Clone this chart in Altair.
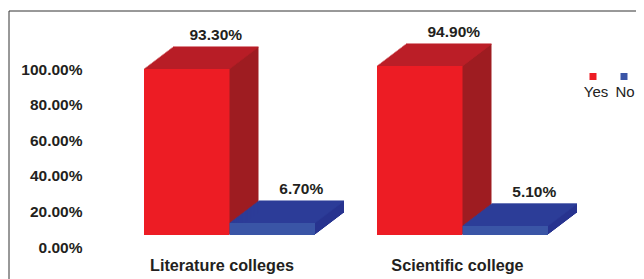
import altair as alt
import pandas as pd

categories = ["Literature colleges", "Scientific college"]
series = ["Yes", "No"]
yes_values = [93.3, 94.9]
no_values = [6.7, 5.1]
y_ticks = [0, 20, 40, 60, 80, 100]

rows = []
for i, c in enumerate(categories):
    rows.append({"college": c, "series": "Yes", "value": yes_values[i]})
    rows.append({"college": c, "series": "No", "value": no_values[i]})
df = pd.DataFrame(rows)

front_colors = {"Yes": "#ED1C24", "No": "#3A55A6"}
top_colors = {"Yes": "#C1202A", "No": "#2E3E9A"}
side_colors = {"Yes": "#9E1C21", "No": "#27338F"}

FONT = "Liberation Sans"
TXT = "#231f20"
DX, DY, N = 29.0, 22.0, 22
BAR_W = 85.5                      # width of one bar (half the group band)
SERIES_SHIFT = {"Yes": -BAR_W / 2, "No": BAR_W / 2}

x_enc = alt.X(
    "college:N", sort=categories,
    scale=alt.Scale(paddingInner=0.2661, paddingOuter=0.2232, round=False),
    axis=alt.Axis(title=None, domain=False, ticks=False, tickSize=0, labelPadding=35,
                  labelBaseline="alphabetic", labelAngle=0, labelFont=FONT, labelFontSize=16.2,
                  labelFontWeight="bold", labelColor=TXT,
                  labelOffset={"condition": {"test": "datum.value == 'Literature colleges'", "value": -7.5},
                               "value": -5}),
)
y_enc = alt.Y(
    "value:Q", scale=alt.Scale(domain=[0, 100], nice=False),
    axis=alt.Axis(title=None, values=y_ticks, domain=False, ticks=False, tickSize=0, grid=False,
                  labelPadding=10, labelOffset=12,
                  labelExpr="format(datum.value, '.2f') + '%'", labelFont=FONT,
                  labelFontSize=15.5, labelFontWeight="bold", labelColor=TXT),
)

base = alt.Chart(df).encode(x=x_enc, y=y_enc)

layers = []
# 3-D extrusion: side faces then top faces, series drawn back to front
for s in series:
    sub = base.transform_filter(alt.datum.series == s)
    for k in range(1, N + 1):
        layers.append(sub.mark_bar(color=side_colors[s], width=alt.RelativeBandSize(0.5),
                                   xOffset=SERIES_SHIFT[s] + k * DX / N, yOffset=-k * DY / N))
    for k in range(0, N + 1):
        layers.append(sub.mark_tick(color=top_colors[s], thickness=1.6, size=BAR_W,
                                    xOffset=SERIES_SHIFT[s] + k * DX / N, yOffset=-k * DY / N))

# front faces
for s in series:
    sub = base.transform_filter(alt.datum.series == s)
    layers.append(sub.mark_bar(color=front_colors[s], width=alt.RelativeBandSize(0.5),
                               xOffset=SERIES_SHIFT[s]))

# value labels (sit above the back edge of each box)
label_dx = {
    "Yes": alt.ExprRef(expr=f"datum.college == 'Scientific college' ? {SERIES_SHIFT['Yes'] + 34} : {SERIES_SHIFT['Yes'] + DX}"),
    "No": SERIES_SHIFT["No"] + DX,
}
for s in series:
    sub = base.transform_filter(alt.datum.series == s).transform_calculate(
        label="format(datum.value, '.2f') + '%'")
    layers.append(sub.mark_text(font=FONT, fontSize=15.5, fontWeight="bold", color=TXT,
                                dx=label_dx[s], dy=-34, baseline="middle").encode(text="label:N"))

# legend (swatch above label)
legend_df = pd.DataFrame({"series": series})
legend_pos = {"Yes": (501, 504), "No": (532, 533)}
for s in series:
    lg = alt.Chart(legend_df).transform_filter(alt.datum.series == s)
    sx, tx = legend_pos[s]
    layers.append(lg.mark_square(size=49, color=front_colors[s], opacity=1).encode(
        x=alt.value(sx), y=alt.value(19.5)))
    layers.append(lg.mark_text(font=FONT, fontSize=15, color="#222222", baseline="alphabetic",
                               align="center").encode(
        text="series:N", x=alt.value(tx), y=alt.value(40)))

# chart frame (top and left edges visible)
frame = alt.Chart(legend_df).transform_filter(alt.datum.series == "Yes")
layers.append(frame.mark_rule(color="#333333", strokeWidth=1).encode(
    x=alt.value(-83), x2=alt.value(560), y=alt.value(-46)))
layers.append(frame.mark_rule(color="#333333", strokeWidth=1).encode(
    x=alt.value(-83), y=alt.value(-46), y2=alt.value(230)))

chart = alt.layer(*layers).properties(
    width=508, height=178,
    padding={"left": 84, "top": 49, "right": 36, "bottom": 44},
    autosize=alt.AutoSizeParams(type="none"),
).configure_view(stroke=None)

chart.save("out.html", embed_options={"renderer": "svg", "actions": False})
